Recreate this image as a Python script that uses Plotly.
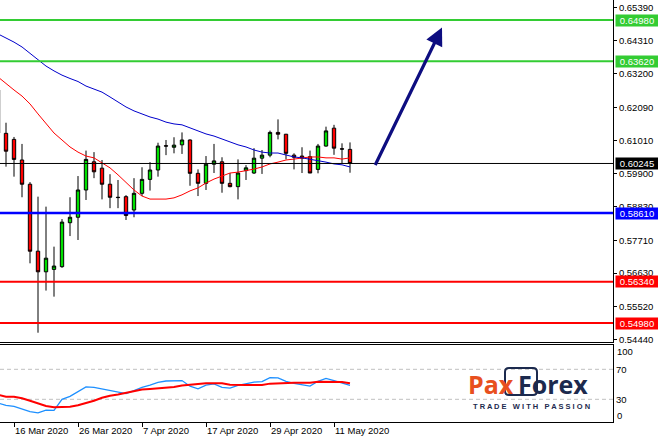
import plotly.graph_objects as go

# ---------------- data ----------------
dates = ["12 Mar 2020", "13 Mar 2020", "16 Mar 2020", "17 Mar 2020", "18 Mar 2020", "19 Mar 2020",
         "20 Mar 2020", "23 Mar 2020", "24 Mar 2020", "25 Mar 2020", "26 Mar 2020", "27 Mar 2020",
         "30 Mar 2020", "31 Mar 2020", "1 Apr 2020", "2 Apr 2020", "3 Apr 2020", "6 Apr 2020",
         "7 Apr 2020", "8 Apr 2020", "9 Apr 2020", "10 Apr 2020", "13 Apr 2020", "14 Apr 2020",
         "15 Apr 2020", "16 Apr 2020", "17 Apr 2020", "20 Apr 2020", "21 Apr 2020", "22 Apr 2020",
         "23 Apr 2020", "24 Apr 2020", "27 Apr 2020", "28 Apr 2020", "29 Apr 2020", "30 Apr 2020",
         "1 May 2020", "4 May 2020", "5 May 2020", "6 May 2020", "7 May 2020", "8 May 2020",
         "11 May 2020", "12 May 2020", "13 May 2020"]

open_ = [0.6267, 0.6124, 0.6104, 0.6036, 0.5956, 0.5735, 0.5667, 0.5675, 0.5684, 0.5829,
         0.5847, 0.5937, 0.6030, 0.6009, 0.5956, 0.5913, 0.5915, 0.5871, 0.5926, 0.5972,
         0.6003, 0.6083, 0.6078, 0.6086, 0.6102, 0.5992, 0.5959, 0.6022, 0.6030, 0.5959,
         0.5948, 0.6001, 0.5993, 0.6042, 0.6052, 0.6127, 0.6121, 0.6052, 0.6049, 0.6047,
         0.6005, 0.6082, 0.6141, 0.6073, 0.6071]
high = [0.6295, 0.6159, 0.6112, 0.6089, 0.5963, 0.5915, 0.5882, 0.5750, 0.5841, 0.5913,
        0.5983, 0.6067, 0.6062, 0.6036, 0.5989, 0.5970, 0.5920, 0.5976, 0.6012, 0.6029,
        0.6093, 0.6102, 0.6111, 0.6127, 0.6104, 0.6005, 0.6049, 0.6089, 0.6045, 0.5993,
        0.6038, 0.6019, 0.6075, 0.6069, 0.6133, 0.6170, 0.6122, 0.6058, 0.6078, 0.6067,
        0.6089, 0.6146, 0.6152, 0.6091, 0.6094]
low = [0.6110, 0.6014, 0.5981, 0.5913, 0.5695, 0.5466, 0.5605, 0.5585, 0.5680, 0.5785,
       0.5772, 0.5904, 0.5976, 0.5906, 0.5877, 0.5877, 0.5838, 0.5847, 0.5917, 0.5935,
       0.5981, 0.6052, 0.6058, 0.6056, 0.5951, 0.5917, 0.5937, 0.5993, 0.5928, 0.5946,
       0.5906, 0.5970, 0.5990, 0.5990, 0.6045, 0.6104, 0.6038, 0.6005, 0.5993, 0.5997,
       0.5992, 0.6080, 0.6053, 0.6025, 0.5994]
close = [0.6125, 0.6065, 0.6038, 0.5956, 0.5735, 0.5667, 0.5712, 0.5686, 0.5831, 0.5847,
         0.5937, 0.6038, 0.5997, 0.5956, 0.5913, 0.5912, 0.5853, 0.5926, 0.5972, 0.6003,
         0.6082, 0.6082, 0.6085, 0.6102, 0.5992, 0.5959, 0.6022, 0.6033, 0.5959, 0.5948,
         0.5993, 0.6010, 0.6042, 0.6052, 0.6127, 0.6121, 0.6058, 0.6045, 0.6042, 0.5993,
         0.6082, 0.6132, 0.6075, 0.6072, 0.60245]

ma_fast = [0.6310, 0.6287, 0.6267, 0.6247, 0.6221, 0.6188, 0.6155, 0.6125, 0.6102, 0.6079,
           0.6062, 0.6049, 0.6043, 0.6026, 0.6010, 0.5987, 0.5963, 0.5937, 0.5917, 0.5907,
           0.5907, 0.5907, 0.5911, 0.5921, 0.5934, 0.5944, 0.5960, 0.5973, 0.5983, 0.5993,
           0.5996, 0.6000, 0.6006, 0.6013, 0.6023, 0.6029, 0.6036, 0.6039, 0.6043, 0.6046,
           0.6046, 0.6043, 0.6043, 0.6039, 0.6043]
ma_slow = [0.6452, 0.6439, 0.6425, 0.6409, 0.6389, 0.6366, 0.6346, 0.6330, 0.6316, 0.6305,
           0.6295, 0.6280, 0.6270, 0.6260, 0.6244, 0.6227, 0.6211, 0.6198, 0.6188, 0.6178,
           0.6171, 0.6161, 0.6155, 0.6152, 0.6142, 0.6132, 0.6122, 0.6115, 0.6105, 0.6095,
           0.6086, 0.6079, 0.6069, 0.6062, 0.6059, 0.6059, 0.6053, 0.6046, 0.6043, 0.6039,
           0.6033, 0.6029, 0.6023, 0.6020, 0.6013]

osc_main = [25, 22, 20.5, 17, 13.5, 12, 15.5, 15.3, 30, 34, 40, 46.5, 46, 44, 41, 40, 37.5,
            41.5, 46, 49, 52.5, 54.4, 55, 55, 47.5, 44, 49, 50.5, 46, 45, 48.5, 50.5, 53,
            53.5, 58.9, 58.5, 54, 51.3, 50, 47.7, 54, 58, 55, 52, 48.5]
osc_signal = [36, 33.5, 33.5, 31.5, 28, 24.5, 21, 19.5, 19.3, 20, 22, 24.5, 28, 32, 34.8,
              36.5, 38.8, 40.5, 43, 43.7, 44.5, 45.5, 46.5, 48.5, 49.5, 50.5, 51.3, 51.3,
              51.3, 49.5, 49, 49, 49, 49, 50.9, 51.5, 52.2, 52.2, 52.2, 52.2, 53.5, 53.5,
              53.5, 53, 51.3]

x_tick_labels = ["16 Mar 2020", "26 Mar 2020", "7 Apr 2020", "17 Apr 2020", "29 Apr 2020", "11 May 2020"]
price_ticks = [0.65390, 0.64310, 0.63200, 0.62090, 0.61010, 0.59900, 0.58830,
               0.57710, 0.56630, 0.55520, 0.54440]
osc_ticks = [70, 30]
osc_levels = [70, 30]

resistance_levels = [0.64980, 0.63620]
support_blue = [0.58610]
support_red = [0.56340, 0.54980]
current_price = 0.60245

# ---------------- figure ----------------
idx = list(range(len(dates)))
tick_idx = [dates.index(d) for d in x_tick_labels]

FONT = "Liberation Sans"
tfont = dict(family=FONT, size=9.5, color="black")
W, H, R, B = 658, 444, 45, 22
PW, PH = W - R, H - B


def px(xp):
    return xp / PW


def py(yp):
    return (PH - yp) / PH


fig = go.Figure()
fig.add_trace(go.Candlestick(
    x=idx, open=open_, high=high, low=low, close=close,
    increasing=dict(line=dict(color="black", width=1), fillcolor="#00e000"),
    decreasing=dict(line=dict(color="black", width=1), fillcolor="#ff0000"),
    whiskerwidth=0, hoverinfo="skip", showlegend=False, xaxis="x", yaxis="y"))
fig.add_trace(go.Scatter(x=idx, y=ma_fast, mode="lines", line=dict(color="#ff0000", width=1),
                         hoverinfo="skip", showlegend=False, xaxis="x", yaxis="y"))
fig.add_trace(go.Scatter(x=idx, y=ma_slow, mode="lines", line=dict(color="#0000cc", width=1),
                         hoverinfo="skip", showlegend=False, xaxis="x", yaxis="y"))
fig.add_trace(go.Scatter(x=idx, y=osc_main, mode="lines", line=dict(color="#1e90ff", width=1.3),
                         hoverinfo="skip", showlegend=False, xaxis="x2", yaxis="y2"))
fig.add_trace(go.Scatter(x=idx, y=osc_signal, mode="lines", line=dict(color="#ff0000", width=2),
                         hoverinfo="skip", showlegend=False, xaxis="x2", yaxis="y2"))

shapes = []
annotations = []


def level(y, color, width, label_bg):
    shapes.append(dict(type="line", xref="paper", yref="y", x0=0, x1=1, y0=y, y1=y,
                       line=dict(color=color, width=width), layer="above"))
    annotations.append(dict(xref="paper", yref="y", x=1, y=y, xanchor="left", yanchor="middle",
                            xshift=2, text=f"{y:.5f}", showarrow=False, bgcolor=label_bg,
                            width=40, height=9, borderpad=1, align="center",
                            font=dict(family=FONT, size=9.5, color="white")))


for v in resistance_levels:
    level(v, "#33cc33", 2, "#33cc33")
level(current_price, "black", 1, "black")
for v in support_blue:
    level(v, "#0000ff", 2.5, "#0000ff")
for v in support_red:
    level(v, "#ff0000", 2, "#ff0000")

for v in osc_levels:
    shapes.append(dict(type="line", xref="paper", yref="y2", x0=0, x1=1, y0=v, y1=v,
                       line=dict(color="#c0c0c0", width=1, dash="4px,3px"), layer="below"))

# oscillator extreme labels
annotations.append(dict(xref="paper", yref="y2", x=1, y=100, xanchor="left", yanchor="middle",
                        xshift=2, yshift=-5, text="100", showarrow=False, font=tfont))
annotations.append(dict(xref="paper", yref="y2", x=1, y=0, xanchor="left", yanchor="middle",
                        xshift=2, yshift=6, text="0", showarrow=False, font=tfont))

# forecast arrow
annotations.append(dict(xref="x", yref="y", axref="x", ayref="y",
                        x=55.5, y=0.6473, ax=47.06, ay=0.60145,
                        text="", showarrow=True, arrowhead=2, arrowsize=1.1,
                        arrowwidth=3.2, arrowcolor="#0d0d80"))

# logo
NAVY = "#1c2a4e"
shapes.append(dict(type="path", xref="paper", yref="paper",
                   path=(f"M {px(509)},{py(368)} L {px(533)},{py(368)} "
                         f"Q {px(537)},{py(368)} {px(537)},{py(372)} L {px(537)},{py(391)} "
                         f"Q {px(537)},{py(395)} {px(533)},{py(395)} L {px(509)},{py(395)} "
                         f"Q {px(505)},{py(395)} {px(505)},{py(391)} L {px(505)},{py(372)} "
                         f"Q {px(505)},{py(368)} {px(509)},{py(368)} Z"),
                   line=dict(color=NAVY, width=2), fillcolor="rgba(0,0,0,0)", layer="above"))
annotations.append(dict(xref="paper", yref="paper", x=px(516), y=py(384),
                        xanchor="right", yanchor="middle", showarrow=False, text="Pax",
                        font=dict(family="Open Sans", size=25, weight="bold", color="#e8501e")))
annotations.append(dict(xref="paper", yref="paper", x=px(516), y=py(384),
                        xanchor="left", yanchor="middle", showarrow=False, text="Forex",
                        font=dict(family="Open Sans", size=25, weight="bold", color=NAVY)))
tag = "\u00a0\u00a0\u00a0".join([" ".join(w) for w in ["TRADE", "WITH", "PASSION"]])
annotations.append(dict(xref="paper", yref="paper", x=px(531), y=py(406),
                        xanchor="center", yanchor="middle", showarrow=False, text=tag,
                        font=dict(family="Liberation Sans", size=7.5, color=NAVY, weight="bold")))

fig.update_layout(
    width=W, height=H,
    margin=dict(l=0, r=R, t=0, b=B),
    paper_bgcolor="white", plot_bgcolor="white",
    showlegend=False, boxgap=0.4, hovermode=False,
    shapes=shapes, annotations=annotations,
    xaxis=dict(domain=[0, 1], range=[0.25, 76.875], anchor="y", showline=True, linecolor="black",
               linewidth=1, showticklabels=False, ticks="", showgrid=False, zeroline=False,
               rangeslider=dict(visible=False), fixedrange=True),
    yaxis=dict(domain=[0.1884, 1], range=[0.54337, 0.6564], side="right", anchor="x",
               showline=True, linecolor="black", linewidth=1, ticks="outside", ticklen=3,
               tickcolor="black", tickvals=price_ticks, tickformat=".5f", tickfont=tfont,
               showgrid=False, zeroline=False),
    xaxis2=dict(domain=[0, 1], range=[0.25, 76.875], anchor="y2", matches="x", showline=True,
                linecolor="black", linewidth=1, mirror=True, ticks="outside", ticklen=4,
                tickcolor="black", tickvals=tick_idx, ticktext=x_tick_labels,
                ticklabelposition="outside right", tickfont=tfont, showgrid=False,
                zeroline=False),
    yaxis2=dict(domain=[0, 0.1836], range=[-0.27, 103.07], side="right", anchor="x2",
                showline=True, linecolor="black", linewidth=1, ticks="", tickvals=osc_ticks,
                ticktext=[str(t) for t in osc_ticks], tickfont=tfont, showgrid=False,
                zeroline=False),
)

fig.write_html("out.html", config={"displayModeBar": False, "staticPlot": True},
               post_script="document.body.style.margin='0';document.body.style.overflow='hidden';")
